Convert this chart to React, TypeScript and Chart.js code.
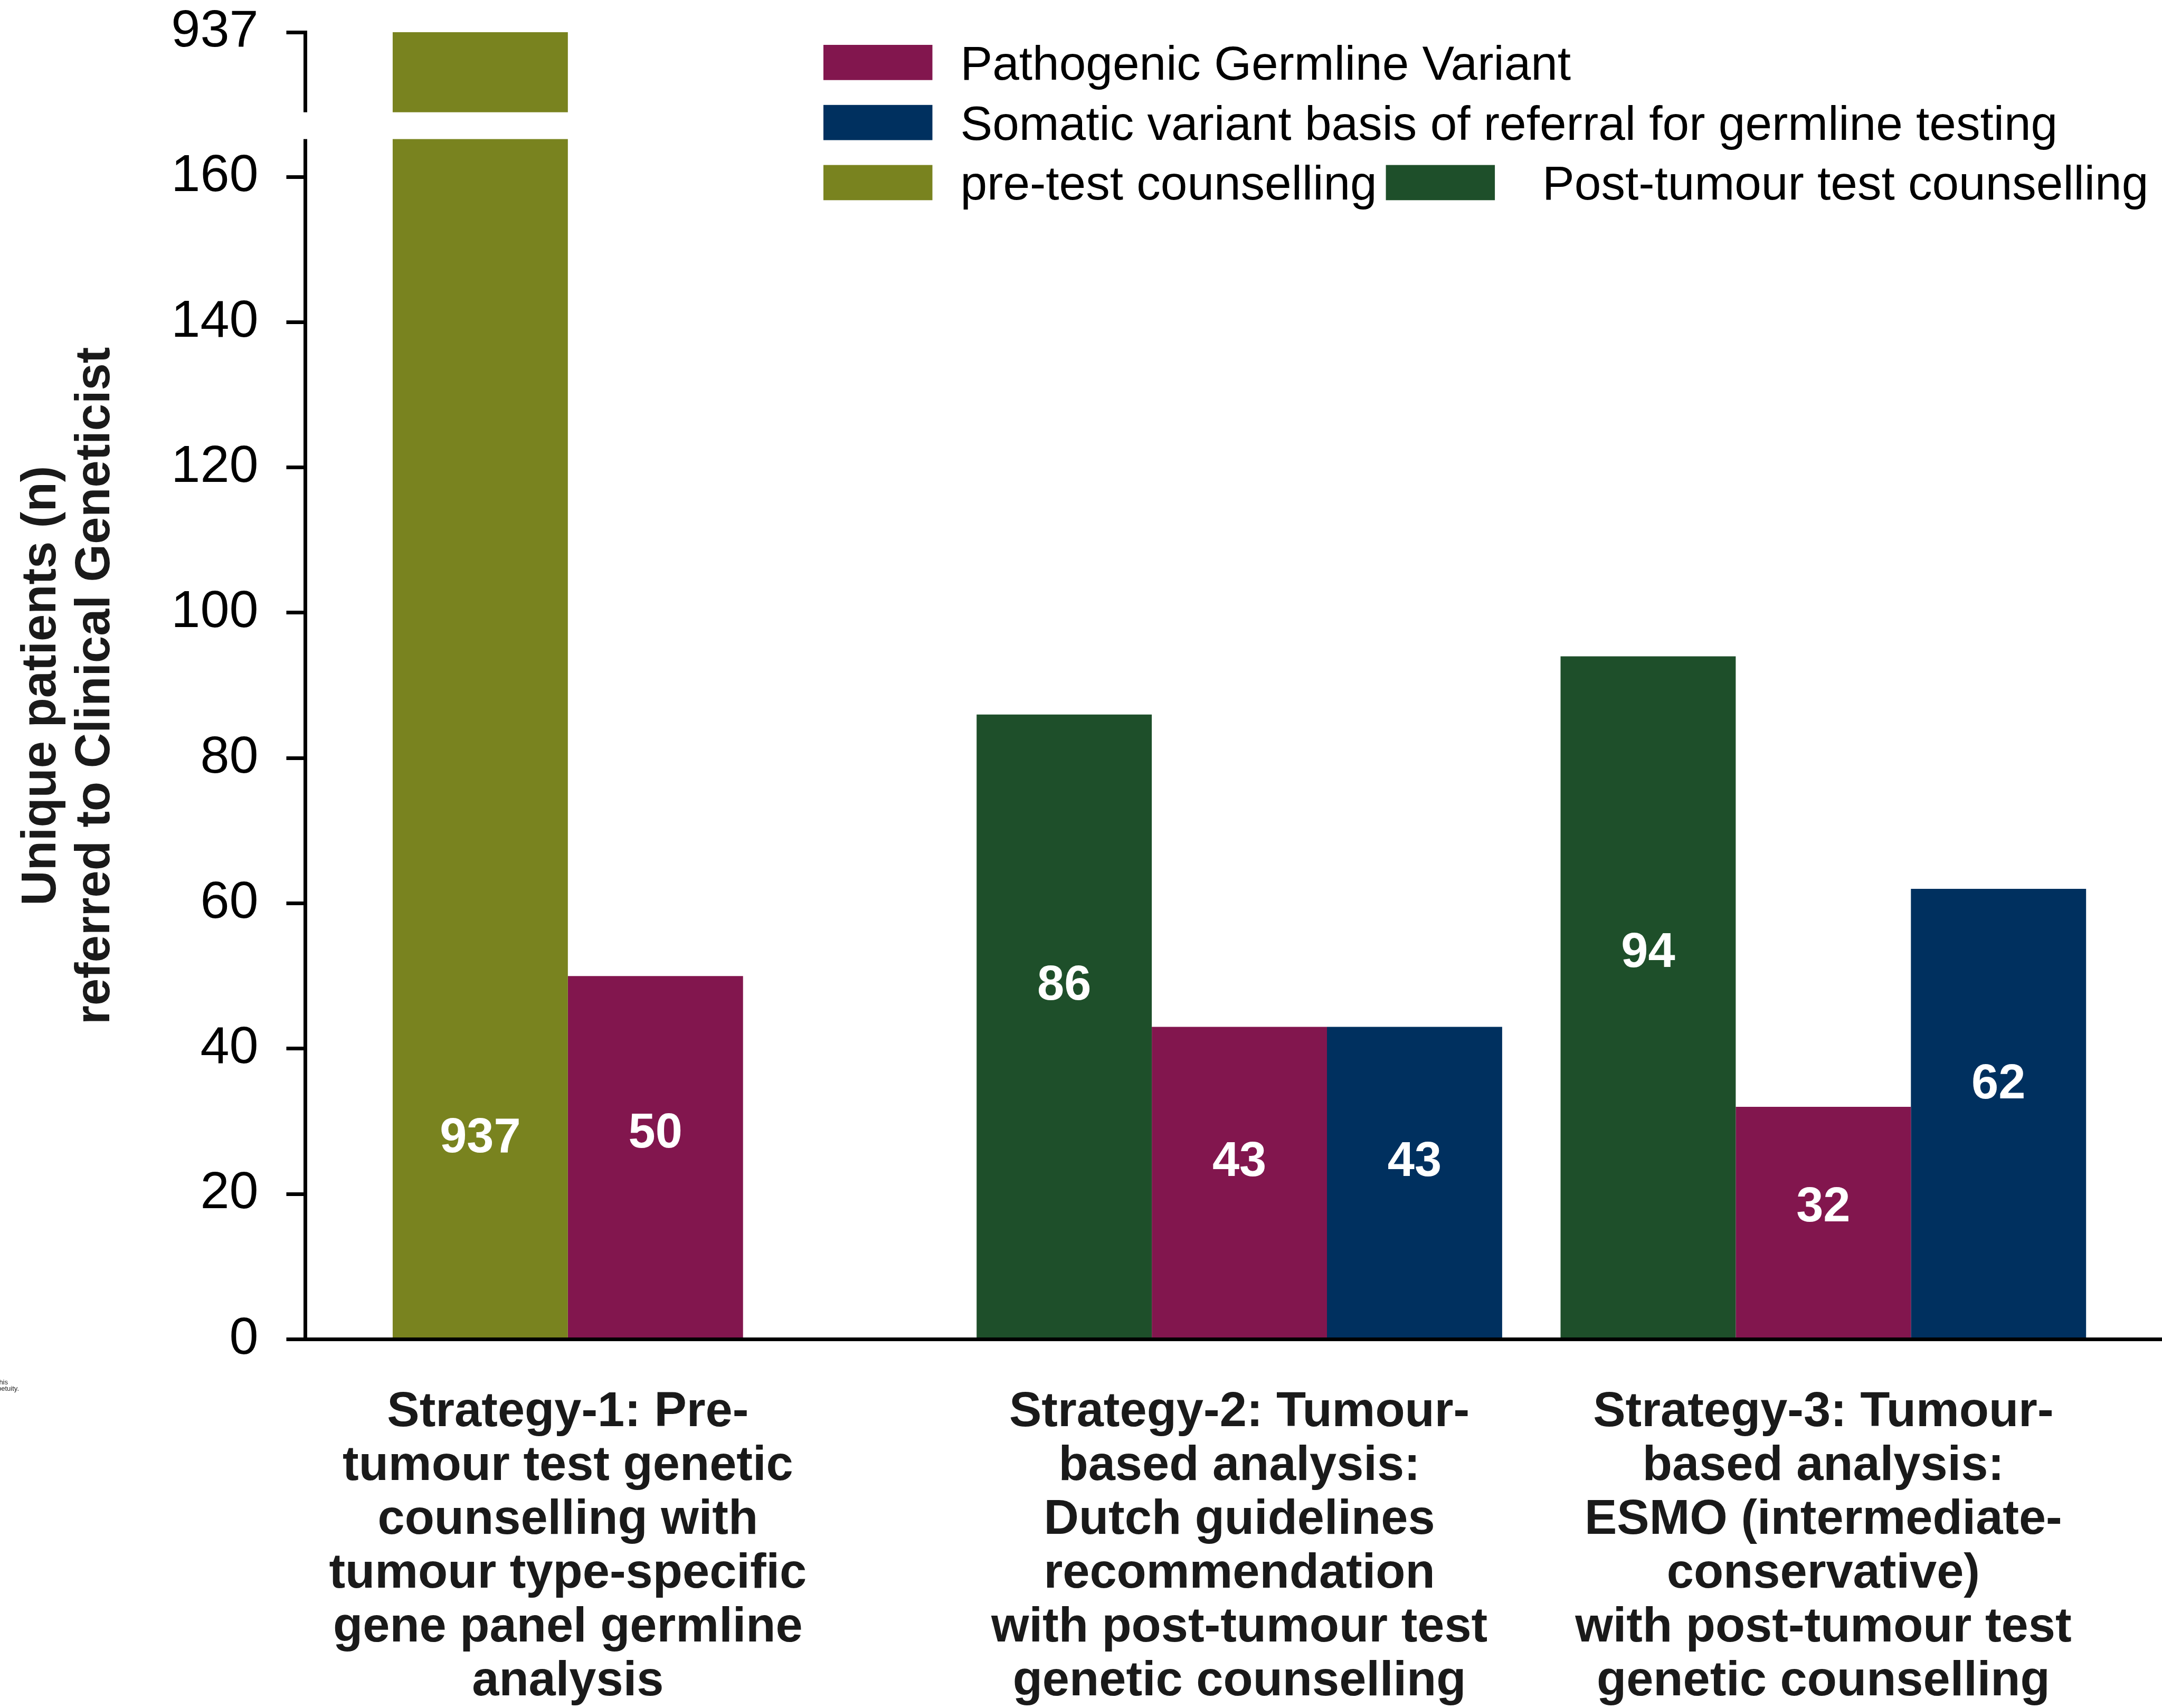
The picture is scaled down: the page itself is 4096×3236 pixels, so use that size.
import { useEffect, useRef } from 'react';
import { Chart, registerables } from 'chart.js';

Chart.register(...registerables);

const W = 4096;
const H = 3236;
const FONT = '"Liberation Sans", Arial, Helvetica, sans-serif';

// ---------------- data ----------------
const categoryLabels: string[][] = [
  ['Strategy-1: Pre-', 'tumour test genetic', 'counselling with', 'tumour type-specific', 'gene panel germline', 'analysis'],
  ['Strategy-2: Tumour-', 'based analysis:', 'Dutch guidelines', 'recommendation', 'with post-tumour test', 'genetic counselling'],
  ['Strategy-3: Tumour-', 'based analysis:', 'ESMO (intermediate-', 'conservative)', 'with post-tumour test', 'genetic counselling'],
];
const categoryIndex = [0, 1, 2];

const pathogenicGermline: (number | null)[] = [50, 43, 32];
const somaticBasis: (number | null)[] = [null, 43, 62];
const preTestCounselling: (number | null)[] = [937, null, null];
const postTumourCounselling: (number | null)[] = [null, 86, 94];

const yTickValues = [0, 20, 40, 60, 80, 100, 120, 140, 160];
const yBreakTickValues = [937];

const seriesNames = [
  'Pathogenic Germline Variant',
  'Somatic variant basis of referral for germline testing',
  'pre-test counselling',
  'Post-tumour test counselling',
];
const seriesColors = ['#82164E', '#00305F', '#79831F', '#1E4F2A'];

const yTitleLines = ['Unique patients (n)', 'referred to Clinical Geneticist'];
const footnoteLines = [
  'the author/funder. The copyright holder for this',
  'who has granted medRxiv a license to display the preprint in perpetuity.',
];

// ---------------- layout / style constants ----------------
const PLOT_TOP = 61;
const PLOT_BOTTOM = 2537.5;
const AXIS_X = 578;
const UPPER_PANEL_H = 202.5;
const LOWER_PANEL_H = PLOT_BOTTOM - PLOT_TOP - UPPER_PANEL_H;
const LOWER_AXIS_MAX = 165.2;
const BREAK_GAP_SHARE = 0.251;
const X_MIN = -0.6;
const X_MAX = 2.58;
const CATEGORY_PERCENTAGE = 0.9;
const LABEL_SHARE = 0.565;
const BROKEN_LABEL_LEVEL = 27.6;

const BOLD_SIZE = 92;
const BOLD_LINE = 102;
const TICK_SIZE = 99;
const LEGEND_SIZE = 91;
const TITLE_PAD = 29;
const TITLE_BLOCK_W = yTitleLines.length * BOLD_LINE + TITLE_PAD;
const AXIS_W = 7;
const TICK_LEN = 35.5;

// slot order of the grouped bars (per category): counselling, pathogenic, somatic
const slotSeries = [[preTestCounselling, postTumourCounselling], [pathogenicGermline], [somaticBasis]];
function labelOffset(i: number): number {
  const used: number[] = [];
  slotSeries.forEach((group, k) => {
    if (group.some((s) => s[i] !== null && s[i] !== undefined)) used.push(k);
  });
  const mean = used.reduce((a, b) => a + b, 0) / Math.max(used.length, 1);
  return (mean - (slotSeries.length - 1) / 2) * (CATEGORY_PERCENTAGE / slotSeries.length);
}

function noEdgePadding(scale: any) {
  scale.paddingTop = 0;
  scale.paddingBottom = 0;
  scale.paddingLeft = 0;
  scale.paddingRight = 0;
}

// ---------------- plugins ----------------
const clipPlugin = {
  id: 'clipToArea',
  beforeDatasetDraw(chart: any) {
    const { ctx, chartArea } = chart;
    ctx.save();
    ctx.beginPath();
    ctx.rect(chartArea.left, chartArea.top, chartArea.right - chartArea.left, chartArea.bottom - chartArea.top);
    ctx.clip();
  },
  afterDatasetDraw(chart: any) {
    chart.ctx.restore();
  },
};

const breakPlugin = {
  id: 'axisBreak',
  afterDatasetsDraw(chart: any) {
    const { ctx } = chart;
    const top = chart.scales.yTop;
    const low = chart.scales.y;
    const gapBottom = low.top;
    const gapTop = top.bottom - (top.bottom - top.top) * BREAK_GAP_SHARE;
    const meta = chart.getDatasetMeta(2);
    let right = chart.chartArea.left + 10;
    meta.data.forEach((el: any, i: number) => {
      if (preTestCounselling[i] !== null) right = Math.max(right, el.x + el.width / 2 + 2);
    });
    ctx.save();
    ctx.fillStyle = '#ffffff';
    ctx.fillRect(chart.chartArea.left - 12, gapTop, right - chart.chartArea.left + 12, gapBottom - gapTop);
    ctx.restore();
  },
};

const valueLabelPlugin = {
  id: 'valueLabels',
  afterDatasetsDraw(chart: any) {
    const { ctx } = chart;
    const y = chart.scales.y;
    ctx.save();
    ctx.fillStyle = '#ffffff';
    ctx.font = `bold ${BOLD_SIZE}px ${FONT}`;
    ctx.textAlign = 'center';
    ctx.textBaseline = 'middle';
    chart.data.datasets.forEach((ds: any, di: number) => {
      const meta = chart.getDatasetMeta(di);
      ds.data.forEach((v: number | null, i: number) => {
        if (v === null || v === undefined) return;
        const el = meta.data[i];
        const level = v > y.max ? BROKEN_LABEL_LEVEL : v * LABEL_SHARE;
        ctx.fillText(String(v), el.x, y.getPixelForValue(level));
      });
    });
    ctx.restore();
  },
};

const LEGEND_X = 1560;
const LEGEND_TOP = 85;
const LEGEND_ROW_STEP = 113.8;
const LEGEND_BOX_W = 206.5;
const LEGEND_BOX_H = 66.7;
const LEGEND_TEXT_GAP = 53;
const LEGEND_ITEM_GAP = 17;
const LEGEND_NEXT_TEXT_GAP = 90;
const legendRows = [[0], [1], [2, 3]];

const legendPlugin = {
  id: 'customLegend',
  afterDraw(chart: any) {
    const { ctx } = chart;
    ctx.save();
    ctx.font = `${LEGEND_SIZE}px ${FONT}`;
    ctx.textAlign = 'left';
    ctx.textBaseline = 'alphabetic';
    legendRows.forEach((row, r) => {
      const top = LEGEND_TOP + r * LEGEND_ROW_STEP;
      let x = LEGEND_X;
      row.forEach((di, k) => {
        const ds = chart.data.datasets[di];
        ctx.fillStyle = ds.backgroundColor;
        ctx.fillRect(x, top, LEGEND_BOX_W, LEGEND_BOX_H);
        const tx = x + LEGEND_BOX_W + (k === 0 ? LEGEND_TEXT_GAP : LEGEND_NEXT_TEXT_GAP);
        ctx.fillStyle = '#000000';
        ctx.fillText(ds.label, tx, top + LEGEND_BOX_H - 1);
        x = tx + ctx.measureText(ds.label).width + LEGEND_ITEM_GAP;
      });
    });
    ctx.restore();
  },
};

const footnotePlugin = {
  id: 'footnote',
  afterDraw(chart: any) {
    const { ctx } = chart;
    ctx.save();
    ctx.font = `13px ${FONT}`;
    ctx.fillStyle = '#222222';
    ctx.textAlign = 'right';
    ctx.textBaseline = 'alphabetic';
    ctx.fillText(footnoteLines[0], 15, 2622.6);
    ctx.fillText(footnoteLines[1], 36, 2635);
    ctx.restore();
  },
};

export default function App() {
  const canvasRef = useRef<HTMLCanvasElement | null>(null);

  useEffect(() => {
    const canvas = canvasRef.current;
    if (!canvas) return;
    const chart = new Chart(canvas, {
      type: 'bar',
      data: {
        labels: categoryIndex as any,
        datasets: [
          { label: seriesNames[0], data: pathogenicGermline, backgroundColor: seriesColors[0], stack: 'pathogenic', order: 3, yAxisID: 'y' },
          { label: seriesNames[1], data: somaticBasis, backgroundColor: seriesColors[1], stack: 'somatic', order: 4, yAxisID: 'y' },
          { label: seriesNames[2], data: preTestCounselling, backgroundColor: seriesColors[2], stack: 'counselling', order: 1, yAxisID: 'y' },
          { label: seriesNames[3], data: postTumourCounselling, backgroundColor: seriesColors[3], stack: 'counselling', order: 2, yAxisID: 'y' },
        ] as any,
      },
      options: {
        responsive: false,
        animation: false,
        devicePixelRatio: 1,
        layout: { padding: { top: PLOT_TOP, left: 0, right: 0, bottom: 0 } },
        datasets: {
          bar: { categoryPercentage: CATEGORY_PERCENTAGE, barPercentage: 1, borderWidth: 0, clip: false } as any,
        },
        plugins: {
          legend: { display: false },
          tooltip: { enabled: false },
          title: {
            display: true,
            position: 'left',
            fullSize: false,
            align: 'center',
            text: yTitleLines,
            color: '#1a1a1a',
            font: { family: FONT, size: BOLD_SIZE, weight: 'bold', lineHeight: BOLD_LINE / BOLD_SIZE },
            padding: { top: TITLE_PAD, bottom: 0 },
          } as any,
        },
        scales: {
          x: {
            type: 'linear',
            min: X_MIN,
            max: X_MAX,
            offset: false,
            grid: { display: false, drawTicks: false },
            border: { display: true, color: '#000000', width: AXIS_W, z: 1 },
            afterBuildTicks: (scale: any) => {
              scale.ticks = categoryIndex.map((i) => ({ value: i + labelOffset(i) }));
            },
            afterFit: (scale: any) => {
              scale.height = H - PLOT_BOTTOM;
              noEdgePadding(scale);
            },
            ticks: {
              autoSkip: false,
              maxRotation: 0,
              minRotation: 0,
              padding: 88,
              color: '#1a1a1a',
              font: { family: FONT, size: BOLD_SIZE, weight: 'bold', lineHeight: BOLD_LINE / BOLD_SIZE },
              callback: (_v: any, i: number) => categoryLabels[i],
            },
          } as any,
          y: {
            type: 'linear',
            position: 'left',
            stack: 'v',
            stackWeight: LOWER_PANEL_H,
            weight: 1,
            stacked: false,
            min: 0,
            max: LOWER_AXIS_MAX,
            grid: {
              display: true,
              drawOnChartArea: false,
              drawTicks: true,
              tickLength: TICK_LEN,
              tickWidth: AXIS_W,
              tickColor: '#000000',
              color: '#000000',
            },
            border: { display: true, color: '#000000', width: AXIS_W },
            afterBuildTicks: (scale: any) => {
              scale.ticks = yTickValues.map((value) => ({ value }));
            },
            afterFit: (scale: any) => {
              scale.width = AXIS_X - TITLE_BLOCK_W;
              noEdgePadding(scale);
            },
            ticks: {
              padding: 53,
              color: '#000000',
              autoSkip: false,
              font: { family: FONT, size: TICK_SIZE },
            },
          } as any,
          yTop: {
            type: 'linear',
            position: 'left',
            stack: 'v',
            stackWeight: UPPER_PANEL_H,
            weight: 2,
            stacked: false,
            beginAtZero: false,
            min: 880,
            max: Math.max(...(preTestCounselling.filter((v) => v !== null) as number[])),
            grid: {
              display: true,
              drawOnChartArea: false,
              drawTicks: true,
              tickLength: TICK_LEN,
              tickWidth: AXIS_W,
              tickColor: '#000000',
              color: '#000000',
            },
            border: { display: true, color: '#000000', width: AXIS_W },
            afterBuildTicks: (scale: any) => {
              scale.ticks = yBreakTickValues.map((value) => ({ value }));
            },
            afterFit: (scale: any) => {
              scale.width = AXIS_X - TITLE_BLOCK_W;
              noEdgePadding(scale);
            },
            ticks: {
              padding: 53,
              color: '#000000',
              autoSkip: false,
              font: { family: FONT, size: TICK_SIZE },
            },
          } as any,
        },
      } as any,
      plugins: [clipPlugin, breakPlugin, valueLabelPlugin, legendPlugin, footnotePlugin],
    });
    return () => {
      chart.destroy();
    };
  }, []);

  return (
    <div style={{ position: 'absolute', left: 0, top: 0, width: W, height: H, background: '#ffffff', overflow: 'hidden' }}>
      <canvas ref={canvasRef} width={W} height={H} style={{ display: 'block', width: W, height: H }} />
    </div>
  );
}
